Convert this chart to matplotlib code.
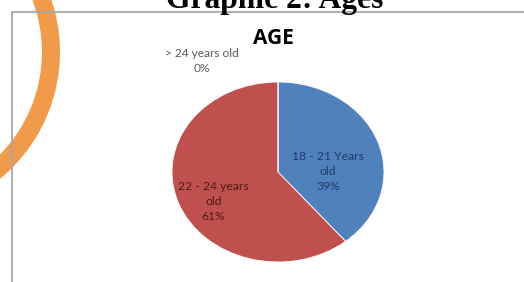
import matplotlib
matplotlib.use("Agg")
import matplotlib.pyplot as plt
from matplotlib.patches import Circle
import numpy as np

# Data
categories = ["18 - 21 Years\nold", "22 - 24 years\nold", "> 24 years old"]
values = [39, 61, 0]
colors = ["#4F81BD", "#C0504D", "#9BBB59"]
label_colors = ["#1F3A68", "#4E1A18", "#595959"]
title = "AGE"
header = "Graphic 2: Ages"

W, H = 524, 282
fig = plt.figure(figsize=(W / 100, H / 100), dpi=100)
fig.patch.set_facecolor("white")

# background layer in pixel coordinates
bg = fig.add_axes([0, 0, 1, 1])
bg.set_xlim(0, W)
bg.set_ylim(H, 0)
bg.axis("off")

# chart border
bg.plot([12, 12, W + 2], [H + 2, 12, 12], color="#a6a6a6", lw=1.3, solid_capstyle="butt")

# orange arc from the page
bg.add_patch(Circle((-104, 52), 155, fill=False, ec="#F0933A", lw=13, alpha=0.92))

# header (cut off at the top)
bg.text(275, 8, header, ha="center", va="baseline", fontsize=22.7,
        fontfamily="Liberation Serif", fontweight="bold", color="black")

# title
bg.text(273, 39, title, ha="center", va="center", fontsize=15,
        fontfamily="Open Sans", fontweight="bold", color="black")

# pie axes (elliptical pie as in the reference)
left, right, top, bottom = 172, 384, 82, 262
ax = fig.add_axes([left / W, 1 - bottom / H, (right - left) / W, (bottom - top) / H])
wedges, _ = ax.pie(values, colors=colors, startangle=90, counterclock=False,
                   radius=1.0, wedgeprops=dict(linewidth=0.6, edgecolor="white"))
ax.set_aspect("auto")
ax.set_xlim(-1, 1)
ax.set_ylim(-1, 1)
ax.axis("off")

# labels
total = sum(values)
label_pos = [(0.47, 0.01), (-0.61, -0.33), None]
for i, (cat, v) in enumerate(zip(categories, values)):
    txt = f"{cat}\n{v / total * 100:.0f}%"
    if label_pos[i] is not None:
        x, y = label_pos[i]
        ax.text(x, y, txt, ha="center", va="center", fontsize=8.7,
                fontfamily="Lato", color=label_colors[i], linespacing=1.45)
    else:
        bg.text(202, 61, txt, ha="center", va="center", fontsize=8.6,
                fontfamily="Lato", color=label_colors[i], linespacing=1.5)

fig.savefig("out.png", dpi=100, facecolor="white")
